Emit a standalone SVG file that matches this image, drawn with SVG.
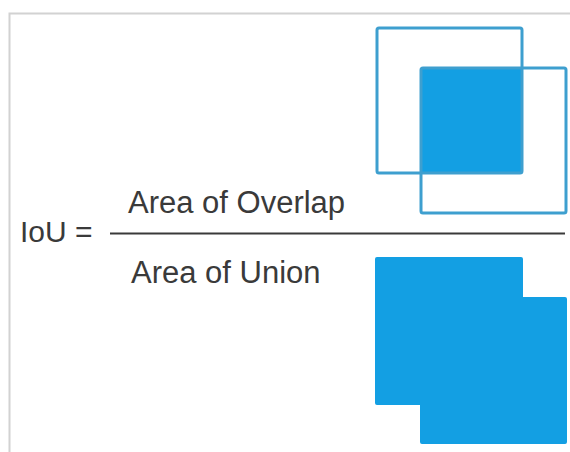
<svg xmlns="http://www.w3.org/2000/svg" width="570" height="452" viewBox="0 0 570 452">
<style>
.t{font-family:"Liberation Sans",Arial,sans-serif;fill:#3a3a3a;}
.box{fill:none;stroke:#3e9fcf;stroke-width:3;}
.fill{fill:#139fe3;}
</style>
<rect width="570" height="452" fill="#ffffff"/>
<g id="frame">
<path d="M9.5 452 V13.5 H570" fill="none" stroke="#d2d2d2" stroke-width="2"/>
</g>
<g id="formula">
<text class="t" x="20" y="242" font-size="30">IoU =</text>
<text class="t" x="128" y="213" font-size="31">Area of Overlap</text>
<text class="t" x="131" y="283" font-size="31">Area of Union</text>
<line x1="110" y1="233.5" x2="565" y2="233.5" stroke="#3a3a3a" stroke-width="2"/>
</g>
<g id="overlap">
<rect class="fill" x="421" y="68" width="101" height="105" rx="2"/>
<rect class="box" x="377" y="28" width="145" height="145" rx="2"/>
<rect class="box" x="421" y="68" width="145" height="145" rx="2"/>
</g>
<g id="union">
<path class="fill" d="M377 257 H521 Q523 257 523 259 V297 H565 Q567 297 567 299 V442 Q567 444 565 444 H422 Q420 444 420 442 V405 H377 Q375 405 375 403 V259 Q375 257 377 257 Z"/>
</g>
</svg>
